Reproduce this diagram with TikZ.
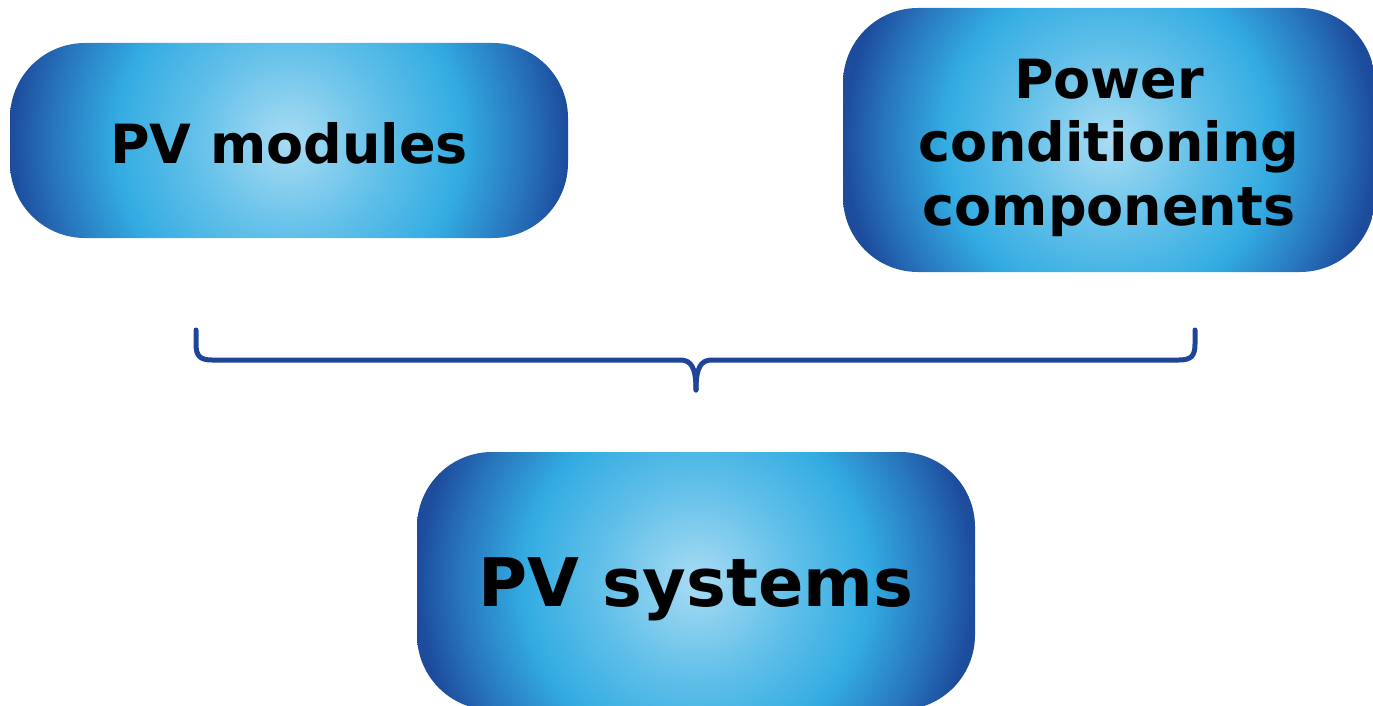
\documentclass[tikz,border=0pt]{standalone}
\usepackage{fontspec}
\setmainfont{DejaVu Sans}
\definecolor{pvA}{HTML}{A9DCF3}
\definecolor{pvB}{HTML}{62C0E9}
\definecolor{pvC}{HTML}{33ACE2}
\definecolor{pvD}{HTML}{2877BE}
\definecolor{pvE}{HTML}{1D4C9D}
\definecolor{braceblue}{HTML}{1E4598}
\pgfdeclareradialshading{pvrad}{\pgfpoint{0bp}{0bp}}{color(0bp)=(pvA); color(8.5bp)=(pvB); color(15.5bp)=(pvC); color(21bp)=(pvD); color(25bp)=(pvE); color(50bp)=(pvE)}
\begin{document}
\begin{tikzpicture}[x=1pt,y=-1pt,
  pvbox/.style={rounded corners=75pt, inner sep=0pt, text=black,
    font=\fontsize{54}{63.5}\selectfont\bfseries, align=center,
    path picture={\shade[shading=pvrad]
      ([shift={(-#1pt,#1pt)}]path picture bounding box.center) rectangle
      ([shift={(#1pt,-#1pt)}]path picture bounding box.center);}},
  bracestyle/.style={draw=braceblue, line width=5pt, line cap=round, line join=round}]
\useasboundingbox (0,0) rectangle (1373,706);
\node[pvbox=279, minimum width=558pt, minimum height=195pt,
      text height=45pt, text depth=0pt] (mod) at (289,140.5) {PV modules};
\node[pvbox=266, minimum width=532pt, minimum height=264pt,
      text height=170pt, text depth=0pt] (pcc) at (1109,140) {Power\\conditioning\\components};
\node[pvbox=279, minimum width=558pt, minimum height=258pt,
      font=\fontsize{67}{80}\selectfont\bfseries,
      text height=50pt, text depth=0pt] (sys) at (696,581) {PV systems};
\coordinate (bL) at (196,330);
\coordinate (bR) at (1195,330);
\coordinate (tip) at (696,390);
\draw[bracestyle] (bL) -- (196,344) .. controls (196,356) and (200,360) .. (212,360)
  -- (680,360) .. controls (691,360) and (696,367) .. (tip);
\draw[bracestyle] (tip) .. controls (696,367) and (701,360) .. (712,360)
  -- (1179,360) .. controls (1191,360) and (1195,356) .. (1195,344) -- (bR);
\end{tikzpicture}
\end{document}
